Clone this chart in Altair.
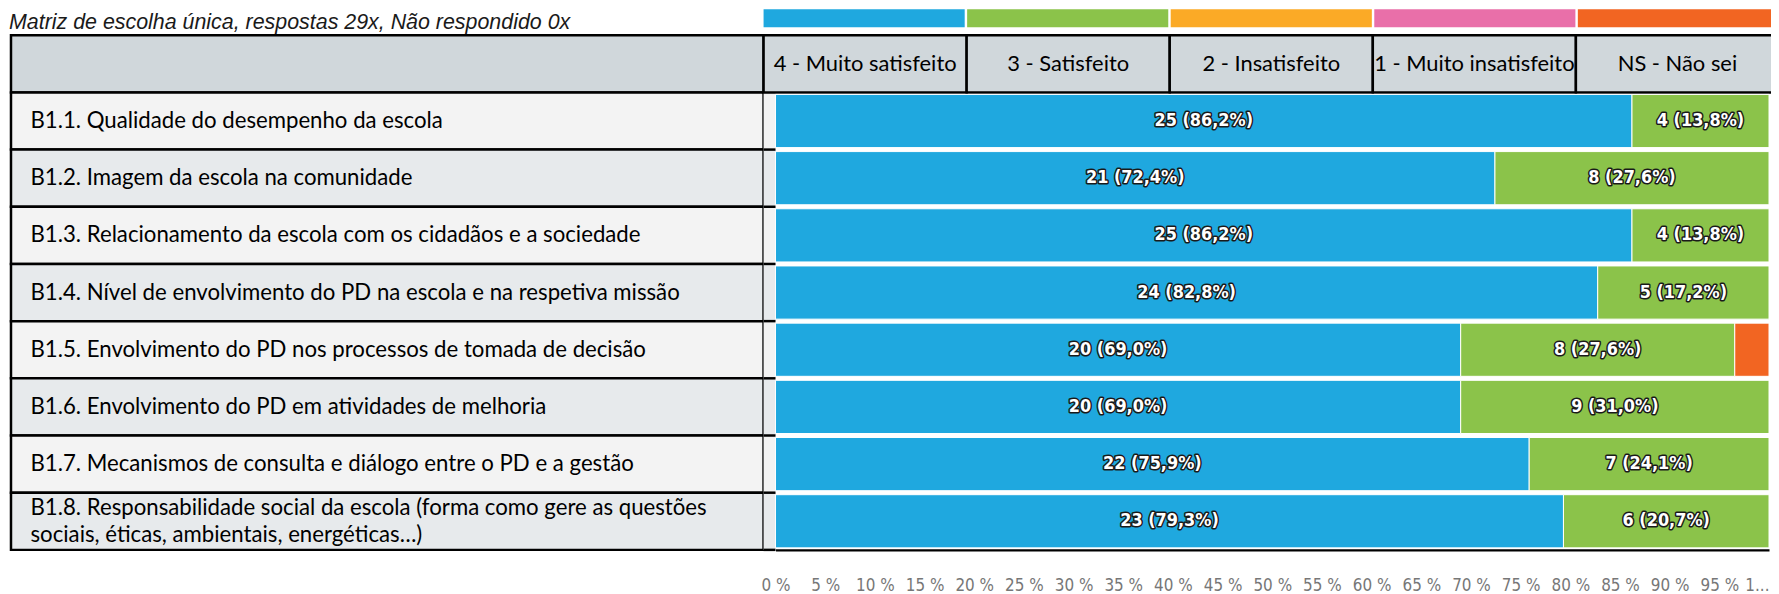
import altair as alt
import pandas as pd

# ---------------- data ----------------
title_text = "Matriz de escolha única, respostas 29x, Não respondido 0x"
categories = ["4 - Muito satisfeito", "3 - Satisfeito", "2 - Insatisfeito",
              "1 - Muito insatisfeito", "NS - Não sei"]
colors = ["#1fa8df", "#8bc34a", "#fbaa26", "#e96fa9", "#f26522"]
row_keys = ["B1.1", "B1.2", "B1.3", "B1.4", "B1.5", "B1.6", "B1.7", "B1.8"]
row_labels = [
    "B1.1. Qualidade do desempenho da escola",
    "B1.2. Imagem da escola na comunidade",
    "B1.3. Relacionamento da escola com os cidadãos e a sociedade",
    "B1.4. Nível de envolvimento do PD na escola e na respetiva missão",
    "B1.5. Envolvimento do PD nos processos de tomada de decisão",
    "B1.6. Envolvimento do PD em atividades de melhoria",
    "B1.7. Mecanismos de consulta e diálogo entre o PD e a gestão",
    "B1.8. Responsabilidade social da escola (forma como gere as questões\nsociais, éticas, ambientais, energéticas…)",
]
muito_satisfeito = [25, 21, 25, 24, 20, 20, 22, 23]
satisfeito = [4, 8, 4, 5, 8, 9, 7, 6]
insatisfeito = [0, 0, 0, 0, 0, 0, 0, 0]
muito_insatisfeito = [0, 0, 0, 0, 0, 0, 0, 0]
nao_sei = [0, 0, 0, 0, 1, 0, 0, 0]
pct_ticks = list(range(0, 101, 5))

series = [muito_satisfeito, satisfeito, insatisfeito, muito_insatisfeito, nao_sei]

# ---------------- layout constants ----------------
W, H = 1771, 543
TOP = 26
LBL_L, LBL_R = 3, 759
BAR0, BAR100 = 771, 1769
HDR_R = 1779
LABEL_X = 22.6
HDR = "hdr"
LINE_H = 27

LATO = "Lato"
NARROW = "'Liberation Sans Narrow', 'DejaVu Sans Condensed', 'Roboto Condensed', 'Open Sans', sans-serif"

# ---------------- tables ----------------
recs = []
for i, k in enumerate(row_keys):
    total = sum(s[i] for s in series)
    cum = 0.0
    for c, s in zip(categories, series):
        n = s[i]
        if n == 0:
            continue
        p = 100.0 * n / total
        recs.append(dict(row=k, cat=c, n=n, pct=p, x0=cum, x1=cum + p,
                         mid=cum + p / 2,
                         label=f"{n} ({p:.1f}%)".replace(".", ",")))
        cum += p
bars_df = pd.DataFrame(recs)

cells_df = pd.DataFrame({
    "row": [HDR] + row_keys,
    "label": [""] + row_labels,
    "kind": ["hdr"] + ["odd" if i % 2 == 0 else "even" for i in range(len(row_keys))],
})
items_df = cells_df[cells_df["row"] != HDR]
single_df = items_df[~items_df["label"].str.contains("\n")]
multi_df = items_df[items_df["label"].str.contains("\n")]
hdr_df = pd.DataFrame({"row": [HDR] * len(categories), "cat": categories})
title_df = pd.DataFrame({"t": [title_text]})

# ---------------- scales ----------------
yscale = alt.Scale(domain=[HDR] + row_keys, range=[TOP, H], paddingInner=0, paddingOuter=0)
xbar = alt.Scale(domain=[0, 100], range=[BAR0, BAR100])
xcat = alt.Scale(domain=categories, range=[LBL_R, HDR_R], paddingInner=0, paddingOuter=0)
xleg = alt.Scale(domain=categories, range=[LBL_R, HDR_R], paddingInner=0.012, paddingOuter=0)
cscale = alt.Scale(domain=categories, range=colors)
fscale = alt.Scale(domain=["hdr", "odd", "even"], range=["#d0d7db", "#f3f3f3", "#e7eaec"])


def Y():
    return alt.Y("row:N", scale=yscale, axis=None)


label_cells = alt.Chart(cells_df).mark_rect(stroke="black", strokeWidth=2.5).encode(
    x=alt.value(LBL_L), x2=alt.value(LBL_R), y=Y(),
    fill=alt.Fill("kind:N", scale=fscale, legend=None))

gap_cells = alt.Chart(items_df).mark_rect().encode(
    x=alt.value(LBL_R), x2=alt.value(BAR0), y=Y(),
    fill=alt.Fill("kind:N", scale=fscale, legend=None))

gap_rules = alt.Chart(items_df).mark_rule(color="black", strokeWidth=2.5).encode(
    x=alt.value(LBL_R), x2=alt.value(BAR0),
    y=alt.Y("row:N", scale=yscale, axis=None, bandPosition=1))

header_cells = alt.Chart(hdr_df).mark_rect(stroke="black", strokeWidth=2.5, fill="#d0d7db").encode(
    x=alt.X("cat:N", scale=xcat, axis=None), y=Y())

header_text = alt.Chart(hdr_df).mark_text(font=LATO, fontSize=22, color="black").encode(
    x=alt.X("cat:N", scale=xcat, axis=None), y=Y(), text="cat:N")

legend_bars = alt.Chart(hdr_df).mark_rect().encode(
    x=alt.X("cat:N", scale=xleg, axis=None), y=alt.value(0), y2=alt.value(18),
    color=alt.Color("cat:N", scale=cscale, legend=None))

bars = alt.Chart(bars_df).mark_bar(height=alt.RelativeBandSize(0.93), stroke="white", strokeWidth=1).encode(
    x=alt.X("x0:Q", scale=xbar, axis=alt.Axis(
        values=pct_ticks, title=None, grid=False, ticks=False, tickSize=0,
        domain=True, domainColor="black", domainWidth=2.5,
        labelExpr="datum.value == 100 ? '1...' : datum.value + ' %'",
        labelFont=NARROW, labelFontSize=17, labelColor="#777777",
        labelPadding=28, labelFlush=False, labelOverlap=False,
        labelAlign={"condition": {"test": "datum.value == 100", "value": "right"}, "value": "center"})),
    x2="x1:Q", y=Y(),
    color=alt.Color("cat:N", scale=cscale, legend=None))

lab_src = alt.Chart(bars_df).transform_filter("datum.pct >= 10")
bar_lab_outline = lab_src.mark_text(font=NARROW, fontSize=18, fontWeight="bold",
                                    stroke="#1a1a1a", strokeWidth=3, fill="#1a1a1a",
                                    strokeJoin="round").encode(
    x=alt.X("mid:Q", scale=xbar, axis=None), y=Y(), text="label:N")
bar_lab = lab_src.mark_text(font=NARROW, fontSize=18, fontWeight="bold", fill="white").encode(
    x=alt.X("mid:Q", scale=xbar, axis=None), y=Y(), text="label:N")

row_text = alt.Chart(single_df).mark_text(font=LATO, fontSize=22.3, color="black", align="left",
                                          baseline="middle").encode(
    x=alt.value(LABEL_X), y=Y(), text="label:N")

row_text_multi = alt.Chart(multi_df).mark_text(font=LATO, fontSize=22.3, color="black", align="left",
                                               baseline="middle", lineBreak="\n",
                                               lineHeight=LINE_H, dy=-LINE_H / 2).encode(
    x=alt.value(LABEL_X), y=Y(), text="label:N")

title = alt.Chart(title_df).mark_text(font="Liberation Sans", fontSize=21.5, fontStyle="italic",
                                      color="#1a1a1a", align="left", baseline="alphabetic").encode(
    x=alt.value(1), y=alt.value(20), text="t:N")

chart = alt.layer(
    label_cells, gap_cells, gap_rules, header_cells, bars,
    bar_lab_outline, bar_lab, header_text, row_text, row_text_multi, legend_bars, title
).resolve_scale(x="independent").properties(
    width=W, height=H,
    autosize=alt.AutoSizeParams(type="none"),
    padding={"left": 0, "top": 0, "right": 0, "bottom": 45},
).configure_view(strokeWidth=0)

chart.save("out.html", embed_options={"renderer": "svg", "actions": False})
